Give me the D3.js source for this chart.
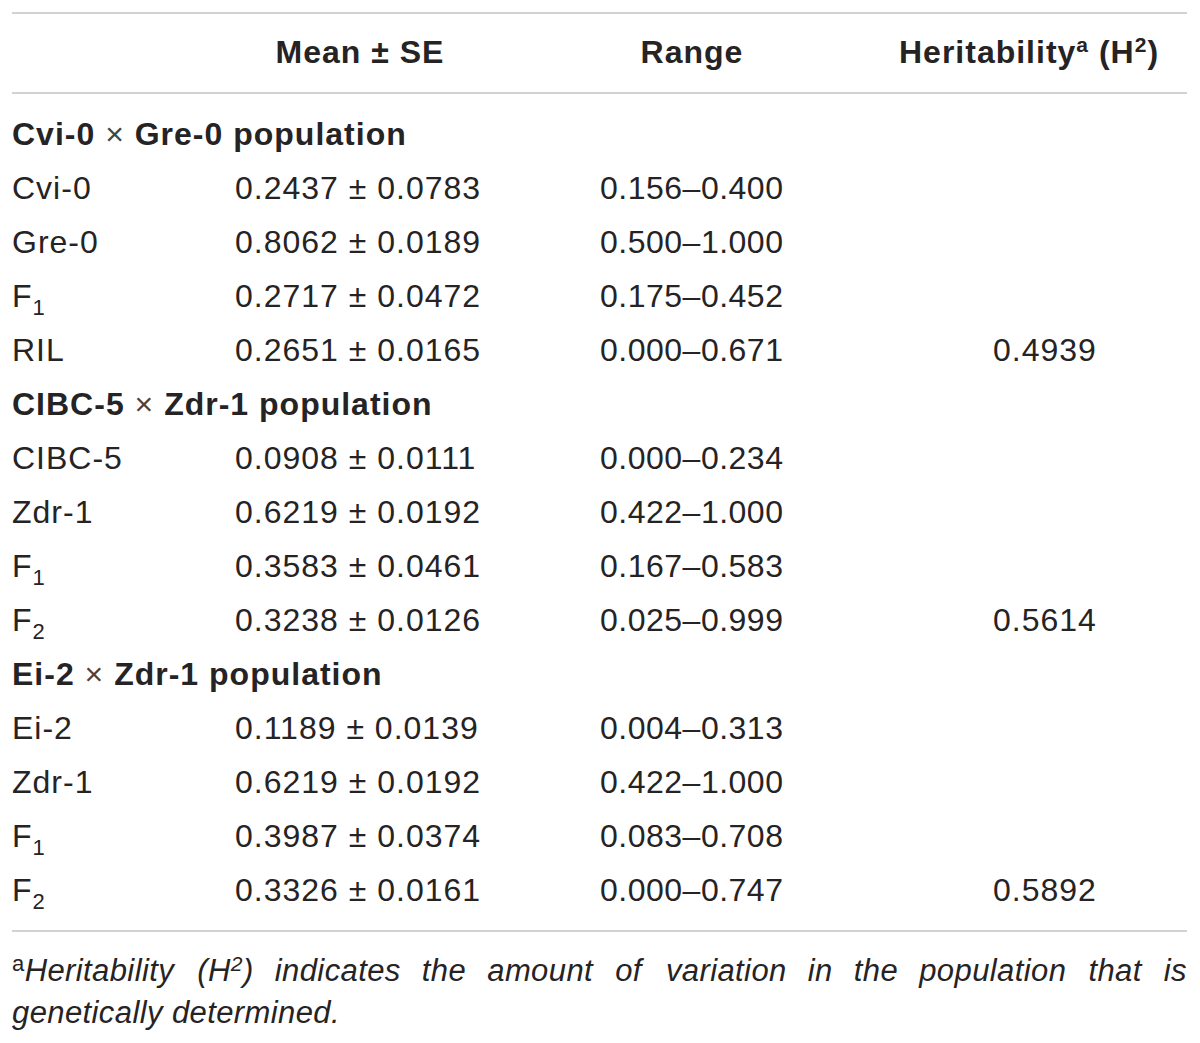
<!DOCTYPE html>
<html><head><meta charset="utf-8">
<script src="https://cdn.jsdelivr.net/npm/d3@7"></script>
<style>
body{margin:0;background:#fff}
text{font-family:"Liberation Sans",Arial,Helvetica,sans-serif;}
</style>
</head><body>
<svg id="c" width="1200" height="1043"></svg>
<script>
// ---- data ----
const headers = ["Mean ± SE", "Range", "Heritability"];
const groupParentA = ["Cvi-0", "CIBC-5", "Ei-2"];
const groupParentB = ["Gre-0", "Zdr-1", "Zdr-1"];
const rowGroup = [0,0,0,0, 1,1,1,1, 2,2,2,2];
const rowLabelBase = ["Cvi-0","Gre-0","F","RIL","CIBC-5","Zdr-1","F","F","Ei-2","Zdr-1","F","F"];
const rowLabelSub  = ["","","1","","","","1","2","","","1","2"];
const means = [0.2437,0.8062,0.2717,0.2651,0.0908,0.6219,0.3583,0.3238,0.1189,0.6219,0.3987,0.3326];
const ses   = [0.0783,0.0189,0.0472,0.0165,0.0111,0.0192,0.0461,0.0126,0.0139,0.0192,0.0374,0.0161];
const rangeLo = [0.156,0.500,0.175,0.000,0.000,0.422,0.167,0.025,0.004,0.422,0.083,0.000];
const rangeHi = [0.400,1.000,0.452,0.671,0.234,1.000,0.583,0.999,0.313,1.000,0.708,0.747];
const heritability = [null,null,null,0.4939,null,null,null,0.5614,null,null,null,0.5892];
const footnoteLine1 = ["indicates","the","amount","of","variation","in","the","population","that","is"];
const footnoteLine2 = "genetically determined.";

// ---- layout ----
const svg = d3.select("#c");
const L = 12, R = 1187;
const ink = "#262324";
const FS = 32, LS = "1px", LSR = "0.5px", LSB = "1px";
const f4 = d3.format(".4f"), f3 = d3.format(".3f");

const lines = [];
groupParentA.forEach((g, gi) => {
  lines.push({type: "group", gi, id: "g" + gi});
  rowGroup.forEach((rg, ri) => { if (rg === gi) lines.push({type: "row", ri, id: "r" + ri}); });
});
const y = d3.scalePoint().domain(lines.map(d => d.id)).range([134, 890]);
const base = 11;

const colX = {label: L, mean: 235, range: 600, her: 993};
const headCenter = [360, 692, 1029];

const rule = (yy) => svg.append("line").attr("x1", L).attr("x2", R).attr("y1", yy).attr("y2", yy)
  .attr("stroke", "#d2d2d2").attr("stroke-width", 2);
rule(13); rule(93); rule(931);

// header
const hy = 52 + base;
[0, 1].forEach(k => svg.append("text").attr("x", headCenter[k]).attr("y", hy).attr("text-anchor", "middle")
  .attr("font-size", FS).attr("font-weight", "bold").attr("fill", ink).style("letter-spacing", LSB)
  .text(headers[k]));
const ht = svg.append("text").attr("x", headCenter[2]).attr("y", hy).attr("text-anchor", "middle")
  .attr("font-size", FS).attr("font-weight", "bold").attr("fill", ink).style("letter-spacing", LSB);
ht.append("tspan").text(headers[2]);
ht.append("tspan").attr("font-size", 21).attr("dy", -11).text("a");
ht.append("tspan").attr("dy", 11).text(" (H");
ht.append("tspan").attr("font-size", 21).attr("dy", -11).text("2");
ht.append("tspan").attr("dy", 11).text(")");

// group headers
lines.filter(d => d.type === "group").forEach(d => {
  const t = svg.append("text").attr("x", colX.label).attr("y", y(d.id) + base)
    .attr("font-size", FS).attr("fill", ink).style("letter-spacing", LSB);
  t.append("tspan").attr("font-weight", "bold").text(groupParentA[d.gi] + " ");
  t.append("tspan").attr("font-weight", "normal").attr("fill", "#444").text("×");
  t.append("tspan").attr("font-weight", "bold").text(" " + groupParentB[d.gi] + " population");
});

// rows
lines.filter(d => d.type === "row").forEach(d => {
  const i = d.ri, yy = y(d.id) + base;
  const lt = svg.append("text").attr("x", colX.label).attr("y", yy)
    .attr("font-size", FS).attr("fill", ink).style("letter-spacing", LS);
  lt.append("tspan").text(rowLabelBase[i]);
  if (rowLabelSub[i]) lt.append("tspan").attr("font-size", 22).attr("dy", 8).text(rowLabelSub[i]);

  svg.append("text").attr("x", colX.mean).attr("y", yy).attr("font-size", FS).attr("fill", ink)
    .style("letter-spacing", LS).text(f4(means[i]) + " ± " + f4(ses[i]));
  svg.append("text").attr("x", colX.range).attr("y", yy).attr("font-size", FS).attr("fill", ink)
    .style("letter-spacing", LSR).text(f3(rangeLo[i]) + "–" + f3(rangeHi[i]));
  if (heritability[i] != null)
    svg.append("text").attr("x", colX.her).attr("y", yy).attr("font-size", FS).attr("fill", ink)
      .style("letter-spacing", LS).text(f4(heritability[i]));
});

// footnote (justified first line)
const FFS = 31, FLS = "0.4px";
const fy1 = 981, fy2 = 1023;
const words = [];
const w0 = svg.append("text").attr("y", fy1).attr("font-size", FFS).attr("fill", ink).style("letter-spacing", FLS);
w0.append("tspan").attr("font-size", 22).attr("dy", -10).text("a");
w0.append("tspan").attr("font-style", "italic").attr("dy", 10).text("Heritability");
words.push(w0);
const w1 = svg.append("text").attr("y", fy1).attr("font-size", FFS).attr("fill", ink)
  .attr("font-style", "italic").style("letter-spacing", FLS);
w1.append("tspan").text("(H");
w1.append("tspan").attr("font-size", 21).attr("dy", -10).text("2");
w1.append("tspan").attr("dy", 10).text(")");
words.push(w1);
footnoteLine1.forEach(w => {
  words.push(svg.append("text").attr("y", fy1).attr("font-size", FFS).attr("fill", ink)
    .attr("font-style", "italic").style("letter-spacing", FLS).text(w));
});
const widths = words.map(w => w.node().getBBox().width);
const gap = (R - L - d3.sum(widths)) / (words.length - 1);
let cx = L;
words.forEach((w, k) => { w.attr("x", cx); cx += widths[k] + gap; });

svg.append("text").attr("x", L).attr("y", fy2).attr("font-size", FFS).attr("fill", ink)
  .attr("font-style", "italic").style("letter-spacing", FLS).text(footnoteLine2);
</script>
</body></html>
